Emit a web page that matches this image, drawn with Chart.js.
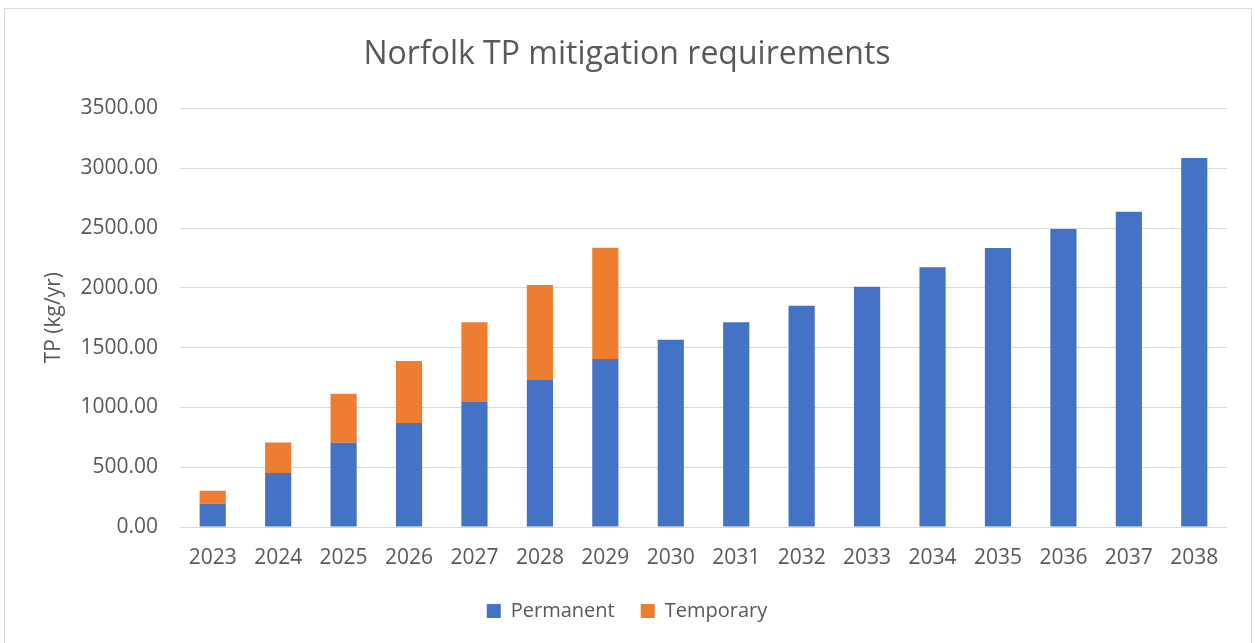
<!DOCTYPE html>
<html>
<head>
<meta charset="utf-8">
<script src="https://cdn.jsdelivr.net/npm/chart.js@4"></script>
<style>
  body { margin: 0; background: #fff; }
  #wrap { position: relative; width: 1255px; height: 643px; }
  #frame { position: absolute; left: 4px; top: 8px; width: 1248px; height: 640px; border: 1px solid #d9d9d9; box-sizing: border-box; }
  canvas { position: absolute; left: 0; top: 0; }
</style>
</head>
<body>
<div id="wrap">
  <div id="frame"></div>
  <canvas id="chart" width="1255" height="643"></canvas>
</div>
<script>
const years = ["2023", "2024", "2025", "2026", "2027", "2028", "2029", "2030",
  "2031", "2032", "2033", "2034", "2035", "2036", "2037", "2038"];
const permanent = [195, 451, 705, 869, 1045, 1229, 1405, 1566,
  1711, 1850, 2009, 2171, 2333, 2492, 2636, 3085];
const temporary = [108, 256, 409, 519, 666, 794, 930, 0,
  0, 0, 0, 0, 0, 0, 0, 0];
const yTicks = [0, 500, 1000, 1500, 2000, 2500, 3000, 3500];

const textColor = "#595959";
const fontFamily = "'Open Sans', sans-serif";

const config = {
  type: "bar",
  data: {
    labels: years,
    datasets: [
      {
        label: "Permanent",
        data: permanent,
        backgroundColor: "#4472C4",
        barPercentage: 0.4,
        categoryPercentage: 1,
      },
      {
        label: "Temporary",
        data: temporary,
        backgroundColor: "#ED7D31",
        barPercentage: 0.4,
        categoryPercentage: 1,
      },
    ],
  },
  options: {
    responsive: false,
    animation: false,
    layout: {
      padding: { left: 27, right: 28, top: 0, bottom: 12 },
    },
    scales: {
      x: {
        stacked: true,
        grid: { display: false, drawTicks: false },
        border: { display: false },
        ticks: {
          color: textColor,
          font: { family: fontFamily, size: 21 },
          padding: 18,
          maxRotation: 0,
        },
        afterFit: (scale) => {
          scale.height = 48;
        },
      },
      y: {
        stacked: true,
        min: 0,
        max: 3500,
        afterBuildTicks: (scale) => {
          scale.ticks = yTicks.map((v) => ({ value: v }));
        },
        grid: { color: "#d9d9d9", lineWidth: 1, drawTicks: false },
        border: { display: false },
        ticks: {
          color: textColor,
          font: { family: fontFamily, size: 21 },
          padding: 22,
          callback: (value) => Number(value).toFixed(2),
        },
        title: {
          display: true,
          text: "TP (kg/yr)",
          color: textColor,
          font: { family: fontFamily, size: 21 },
          padding: { top: 14, bottom: 0 },
        },
        afterFit: (scale) => {
          scale.width = 153;
        },
      },
    },
    plugins: {
      title: {
        display: true,
        text: "Norfolk TP mitigation requirements",
        color: textColor,
        font: { family: fontFamily, size: 32, weight: "normal" },
        padding: { top: 36, bottom: 34 },
      },
      legend: {
        position: "bottom",
        labels: {
          color: textColor,
          font: { family: fontFamily, size: 20 },
          boxWidth: 14,
          boxHeight: 14,
          padding: 26,
        },
      },
      tooltip: { enabled: false },
    },
  },
};

new Chart(document.getElementById("chart"), config);
</script>
</body>
</html>
